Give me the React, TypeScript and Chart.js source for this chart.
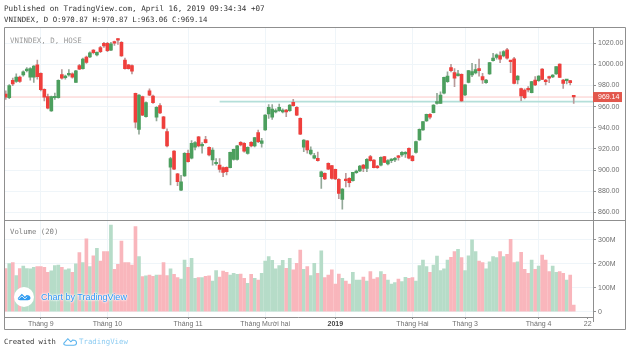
import React, { useEffect, useRef } from "react";
import { Chart, registerables } from "chart.js";

Chart.register(...registerables);

const opens = [972,968.5,985,984,988,990,994,988,988,999.5,991.5,976.5,969.5,956,968.5,968.5,990.5,987.5,990,991,983,999,996,1007,1007,1013.5,1009,1016,1020,1020,1013.5,1021.5,1024,1021,1004,999.5,999,972.7,938.6,969.5,950.5,975,970,950,961,950.5,936.4,902.7,918,896.4,881,894.5,916,911.2,921.6,931.6,923,929,921.6,909.6,906,904.8,902.3,902.6,902.3,910.2,910.2,926.3,925.3,915.9,926.3,922.8,935.4,925.3,938,953.1,950,955,956.2,955,956.9,956.2,964.1,959.4,949,921.6,927.6,915.3,911.2,911.2,893.8,897,906.4,904.2,900.7,891.3,872.4,891.3,892.2,890,897.6,899.2,904.8,901.7,912.7,909.6,903.9,904.8,912.7,905.8,909,909.6,913.4,914.3,915.3,920.6,913.4,916.8,928.5,938,946.5,952.8,954.4,963.2,963.2,972.7,983.7,997,992.2,989.4,990.7,971.1,983,990,992,996,988.4,982.8,991,1003.6,1006.7,1008.3,1008,1013.7,1003.3,1005.2,985.3,977.1,975.8,977.4,973.3,985.3,984.7,995.7,985.3,988.4,988.1,991,1000.4,985.3,984.7,984.7,970.87];
const closes = [969,980,981.5,988,984,993,995.5,996,998.5,988.5,976,969,958.5,969.5,969.8,985,987,989,991.5,988,994,995.5,1005,1002,1011,1011,1011.5,1012,1017.5,1013,1019.5,1020,1023,1008,996,996,993.5,945.3,971,952,964,971,963.8,959.5,954,939.5,922.8,911,901,889,889,916,908,925.4,926,922.8,924,926,914.3,919,907,900.7,897.9,898.5,916.8,919.7,923,923.8,918,921.6,922.8,930.7,926.9,927.6,952.1,959.4,957.8,956.2,959.4,956.9,955,961.6,961,952.1,933.9,928.5,919,919,913.7,909,898.5,891.6,901,892.2,891.6,878,882,890,888.1,897.9,899.2,903.9,901.7,910.2,909,902.3,902.3,912,907.4,909,910.2,911.2,912,916.8,916.8,911.2,909,926.9,938.6,945.9,952.8,950,961.6,964.8,971.1,987.8,989,994.1,986.9,991,965.4,980.6,994.1,993.2,995,994.1,985.3,985.3,1001.7,1006.1,1009,1004.9,1012.1,1005.8,1002.6,982.1,989,970.2,968.6,975.8,983.7,980.6,989,985.9,983.7,986.9,990,997.9,987.8,982.1,985.9,982.8,969.14];
const highs = [975,981,987,991,989,994,997,997,999,1004,992,977,972,970,973,985.5,995,990,995,992,994.5,1000,1006,1008,1012,1014,1012,1017,1021,1021,1021,1022,1024.5,1021.5,1006,1000,999.5,973,971.5,970,964.5,977,971,960,963,951,939,912,918.5,897,895,916.5,919,928,927,932,926,932,922,921,911,911,903,903,917,920,923.5,927,926,922,927,931,938,930,952.5,962,962,958,962.5,958,957.5,962,967,960,949.5,929,928,922,916,917,899,897.5,907,904.5,901,892,882.5,897,893,898,900,904.5,905.5,911,914,910,904.5,912.5,913,910,911,912,914,917.5,917.5,921,914,927.5,939,946,953,953.5,962,972.7,974,988,993,1000,996,994.5,991,981,994.5,1001,1000,1005,991.6,986,1002,1010.5,1010,1012,1013,1015.3,1003.5,1006.7,989.5,977.5,977,979,984,988.5,989.5,996,986,989,990.5,998,1000.5,986,986,985,970.87];
const lows = [967,967.5,980,983,983,989,993,985,983,986,975,965.5,958,955.5,967,968,986,986,989,987,983,995,995.5,1001,1006.5,1010,1008,1011,1016,1012,1013,1018,1019,1007.5,995.5,995.5,991,940,934,951.5,950,970.5,963,946.5,953.5,939,922,886,900.5,885.3,880.5,894,907.5,910.5,919,922,916,925.5,913.5,904.8,904.8,898,893.8,895.5,902,909.5,909.5,923,917,915,922,922,926,921.6,937.5,949,948,954,955.5,954,950.5,955.5,960.5,951.5,933.5,917.5,916,914.5,910.5,908.5,882.8,891,900.5,891.5,891,873,863,884,884,889.5,897,898.5,898.5,898.5,908.5,902,901.5,904,907,905,907,908,909.5,913,912,910.5,908.5,916,928,937.5,946,948.5,954,962.5,963,972,983,993,979,989,965,970.5,982.5,988.5,991,989,982,982,990.5,1003,1005,1001.7,1007,1004.9,992.2,981.5,981.5,965.7,967.3,974,973,980,984,985.5,980.5,982.8,987.5,990.5,987.5,977.4,981.5,980.6,963.06];
const volumes = [180,200,205,150,180,190,180,178,185,188,188,185,164,170,192,194,185,174,178,164,199,246,204,303,188,233,264,211,250,250,361,176,197,294,204,204,194,354,229,146,149,153,147,153,153,204,150,178,156,142,136,215,185,222,139,142,142,147,149,128,171,144,169,164,153,160,156,157,139,118,156,139,132,160,211,229,214,178,192,214,181,222,174,201,257,176,188,150,201,160,253,142,153,174,115,157,139,128,115,164,132,132,144,128,167,136,142,167,156,132,115,121,136,125,143,139,142,128,192,215,188,164,194,232,171,178,215,226,250,260,225,171,233,299,250,211,204,178,208,229,225,250,229,239,301,204,208,247,176,160,215,176,190,236,215,167,190,164,167,160,132,153,28];

const categoryCount = 168;
const monthTicks: Record<number, string> = { 10: "Tháng 9", 29: "Tháng 10", 52: "Tháng 11", 74: "Tháng Mười hai", 94: "2019", 116: "Tháng Hai", 131: "Tháng 3", 152: "Tháng 4", 166: "22" };
const priceTicks = [860, 880, 900, 920, 940, 960, 980, 1000, 1020];
const volumeTicks = [0, 100, 200, 300];
const lastPrice = 969.14;
const supportLevel = 964.8;
const supportStartIndex = 61;

const RED = "#ef3f3c";
const GREEN = "#4c9f5e";
const RED_VOL = "#f9b6bc";
const GREEN_VOL = "#b6dcc8";
const GRID = "#eff5f9";
const FRAME = "#8f8f8f";
const TICK = "#6f6f6f";
const SANS = "'Liberation Sans', sans-serif";
const MONO = "'DejaVu Sans Mono', monospace";

const isDown = (i: number) => closes[i] < opens[i];

const framePlugin = {
  id: "frame",
  beforeDatasetsDraw(chart: any) {
    const { ctx, chartArea: a, scales } = chart;
    const yP = scales.y.getPixelForValue(lastPrice);
    const yS = scales.y.getPixelForValue(supportLevel);
    const xS = scales.x.getPixelForValue(supportStartIndex);
    ctx.save();
    ctx.strokeStyle = "rgba(239,83,80,0.32)";
    ctx.lineWidth = 1;
    ctx.beginPath();
    ctx.moveTo(a.left, yP);
    ctx.lineTo(a.right, yP);
    ctx.stroke();
    ctx.strokeStyle = "#b4dfd9";
    ctx.lineWidth = 1.6;
    ctx.beginPath();
    ctx.moveTo(xS, yS);
    ctx.lineTo(a.right, yS);
    ctx.stroke();
    ctx.restore();
  },
  afterDraw(chart: any) {
    const { ctx, chartArea: a, scales, width } = chart;
    const sep = scales.y.bottom;
    ctx.save();
    ctx.strokeStyle = FRAME;
    ctx.lineWidth = 1;
    ctx.beginPath();
    ctx.rect(a.left + 0.5, a.top + 0.5, width - 4 - a.left - 1, 329 - a.top);
    ctx.moveTo(a.left, Math.round(sep) + 0.5);
    ctx.lineTo(width - 4, Math.round(sep) + 0.5);
    ctx.moveTo(a.right + 0.5, a.top);
    ctx.lineTo(a.right + 0.5, a.bottom + 5);
    ctx.moveTo(a.left, a.bottom + 0.5);
    ctx.lineTo(a.right, a.bottom + 0.5);
    ctx.stroke();
    const y = scales.y.getPixelForValue(lastPrice);
    ctx.fillStyle = "#e2574c";
    ctx.fillRect(a.right, y - 5, 29, 10);
    ctx.fillStyle = "#ffffff";
    ctx.font = `7px ${SANS}`;
    ctx.textBaseline = "middle";
    ctx.fillText(lastPrice.toFixed(2), a.right + 5, y + 0.5);
    ctx.restore();
  },
};

const fixedWidth = (w: number) => (s: any) => { s.width = w; };

export default function App() {
  const ref = useRef<HTMLCanvasElement>(null);
  useEffect(() => {
    const labels = Array.from({ length: categoryCount }, (_, i) => monthTicks[i] ?? "");
    const chart = new Chart(ref.current!, {
      type: "bar",
      data: {
        labels,
        datasets: [
          {
            label: "Volume",
            yAxisID: "v",
            grouped: false,
            data: volumes,
            backgroundColor: volumes.map((_, i) => (isDown(i) ? RED_VOL : GREEN_VOL)),
            barThickness: 3,
            order: 3,
          },
          {
            label: "Wick",
            yAxisID: "y",
            grouped: false,
            data: lows.map((l, i) => [l, highs[i]]),
            backgroundColor: lows.map((_, i) => (isDown(i) ? "#b89a9a" : "#93a898")),
            barThickness: 1,
            order: 2,
          },
          {
            label: "Body",
            yAxisID: "y",
            grouped: false,
            data: opens.map((o, i) => [o, closes[i]]),
            backgroundColor: opens.map((_, i) => (isDown(i) ? RED : GREEN)),
            barThickness: 3,
            minBarLength: 1.5,
            order: 1,
          },
        ] as any,
      },
      options: {
        animation: false,
        responsive: false,
        layout: { padding: { left: 4, top: 27, right: 4, bottom: 24 } },
        plugins: { legend: { display: false }, tooltip: { enabled: false } },
        scales: {
          x: {
            type: "category",
            offset: true,
            afterBuildTicks: (s: any) => {
              s.ticks = Object.keys(monthTicks).map((k) => ({ value: Number(k) }));
            },
            afterFit: (s: any) => { s.height = 12; },
            border: { display: false },
            grid: {
              offset: false,
              color: (c: any) => (c.tick && c.tick.value === 166 ? "transparent" : GRID),
              tickColor: FRAME,
              tickLength: 2,
            },
            ticks: {
              autoSkip: false,
              maxRotation: 0,
              padding: 1,
              color: (c: any) => (c.tick && c.tick.label === "2019" ? "#444" : TICK),
              font: (c: any) => ({ family: SANS, size: 7, weight: c.tick && c.tick.label === "2019" ? "bold" : "normal" }),
              callback: (v: any) => monthTicks[Number(v)] ?? "",
            },
          },
          y: {
            type: "linear",
            position: "right",
            stack: "panes",
            stackWeight: 192.7,
            weight: 0,
            min: 853.1,
            max: 1035.4,
            afterBuildTicks: (s: any) => { s.ticks = priceTicks.map((value) => ({ value })); },
            afterFit: fixedWidth(33),
            border: { display: false },
            grid: { color: GRID, tickColor: FRAME, tickLength: 3 },
            ticks: { autoSkip: false, color: TICK, padding: 2, font: { family: SANS, size: 7 }, callback: (v: any) => Number(v).toFixed(2) },
          },
          v: {
            type: "linear",
            position: "right",
            stack: "panes",
            stackWeight: 97.3,
            weight: 1,
            min: -22,
            max: 383,
            afterBuildTicks: (s: any) => { s.ticks = volumeTicks.map((value) => ({ value })); },
            afterFit: fixedWidth(33),
            border: { display: false },
            grid: { color: GRID, tickColor: FRAME, tickLength: 3 },
            ticks: { autoSkip: false, color: TICK, padding: 2, font: { family: SANS, size: 7 }, callback: (v: any) => (Number(v) === 0 ? "0" : `${v}M`) },
          },
        },
      } as any,
      plugins: [framePlugin],
    });
    return () => chart.destroy();
  }, []);

  const text = (left: number, top: number, size: number, color: string, extra: any = {}) => ({
    position: "absolute" as const, left, top, fontFamily: MONO, fontSize: size, lineHeight: "10px", color, whiteSpace: "pre" as const, ...extra,
  });

  const cloud = (x: number, y: number, w: number, fill: string, stroke?: string) => (
    <svg style={{ position: "absolute", left: x, top: y }} width={w} height={w * 0.62} viewBox="0 0 32 20">
      <path d="M2 14 L11 4 L18 11 L22 7 C27 7 31 10 31 14 C31 18 28 19 25 19 L7 19 C3 19 1 17 2 14 Z" fill={stroke ? "none" : fill} stroke={stroke ?? "none"} strokeWidth={stroke ? 2.5 : 0} />
      {stroke ? null : <path d="M4 16 L11 9 L18 16 L23 11" fill="none" stroke="#ffffff" strokeWidth="2" />}
    </svg>
  );

  return (
    <div style={{ position: "absolute", left: 0, top: 0, width: 630, height: 353, background: "#fff", overflow: "hidden", filter: "blur(0.35px)" }}>
      <canvas ref={ref} width={630} height={353} style={{ position: "absolute", left: 0, top: 0, display: "block" }} />
      <div style={text(4, 4, 7.6, "#333333")}>Published on TradingView.com, April 16, 2019 09:34:34 +07</div>
      <div style={text(4, 15, 7.35, "#333333")}>VNINDEX, D O:970.87 H:970.87 L:963.06 C:969.14</div>
      <div style={text(10, 36, 7.45, "#9a9a9a")}>VNINDEX, D, HOSE</div>
      <div style={text(10, 227, 7.3, "#7f7f7f")}>Volume (20)</div>
      <div style={{ position: "absolute", left: 13.5, top: 286.5, width: 20, height: 20, borderRadius: 10, background: "#fff" }} />
      {cloud(16.5, 292, 14, "#2f9bf0")}
      <div style={{ position: "absolute", left: 41, top: 291.5, fontFamily: SANS, fontSize: 9, lineHeight: "10px", color: "#2f95f3", whiteSpace: "pre", textShadow: "0 0 1px #fff, 0 0 2px #fff, 0 0 2px #fff, 0 0 3px #fff" }}>Chart by TradingView</div>
      <div style={text(4, 337, 7.2, "#333333")}>Created with</div>
      {cloud(63, 337, 14, "#5bb4ee", "#5bb4ee")}
      <div style={text(79, 337, 7.4, "#8fcdf2")}>TradingView</div>
    </div>
  );
}
